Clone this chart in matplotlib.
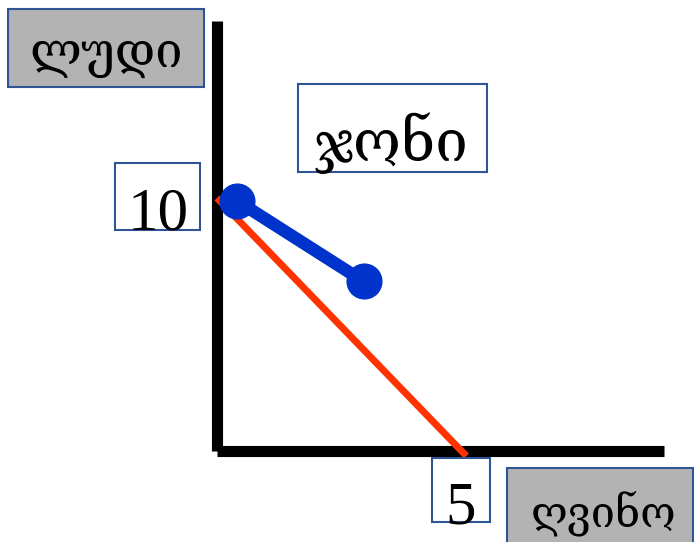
import matplotlib
matplotlib.use("Agg")
import matplotlib.pyplot as plt
from matplotlib.patches import Rectangle

W, H = 694, 542

# data
red_x = [0, 5.1]
red_y = [10, -0.2]
blue_x = [0.4, 3.0]
blue_y = [9.9, 6.7]
y_axis_top = 17
x_axis_end = 9.15
y_label = "ლუდი"
x_label = "ღვინო"
point_label = "ჯონი"
y_tick = "10"
x_tick = "5"

fig = plt.figure(figsize=(W / 100, H / 100), dpi=100)
ax = fig.add_axes([0, 0, 1, 1])
ax.set_xlim(-217 / 48.9, (W - 217) / 48.9)
ax.set_ylim(-(H - 451) / 25.3, 451 / 25.3)
ax.axis("off")

# axes drawn as thick black lines
ax.plot([0, 0], [0, y_axis_top], color="black", lw=8, solid_capstyle="butt")
ax.plot([0, x_axis_end], [0, 0], color="black", lw=8, solid_capstyle="butt")

ax.plot(red_x, red_y, color="#FF3300", lw=5, solid_capstyle="butt")
ax.plot(blue_x, blue_y, color="#0033CC", lw=9, marker="o", markersize=25)

fam = ["Liberation Serif", "DejaVu Serif", "DejaVu Sans"]


def box(x0, y0, x1, y1, txt, tx, ty, fs, fill):
    # pixel coords, origin top-left
    r = Rectangle((x0 / W, 1 - y1 / H), (x1 - x0) / W, (y1 - y0) / H,
                  transform=fig.transFigure, facecolor=fill,
                  edgecolor="#2F5597", lw=1.5, zorder=5)
    fig.add_artist(r)
    fig.text(tx / W, 1 - ty / H, txt, ha="center", va="center",
             fontsize=fs, family=fam, zorder=6)


box(8, 9, 204, 87, y_label, 106, 56, 35, "#B3B3B3")
box(507, 468, 693, 560, x_label, 604, 513, 31, "#B3B3B3")
box(298, 84, 487, 172, point_label, 391, 143, 42, "white")
box(115, 163, 200, 230, y_tick, 158, 215, 44, "none")
box(432, 458, 490, 522, x_tick, 461, 509, 44, "none")

fig.savefig("out.png", dpi=100)
